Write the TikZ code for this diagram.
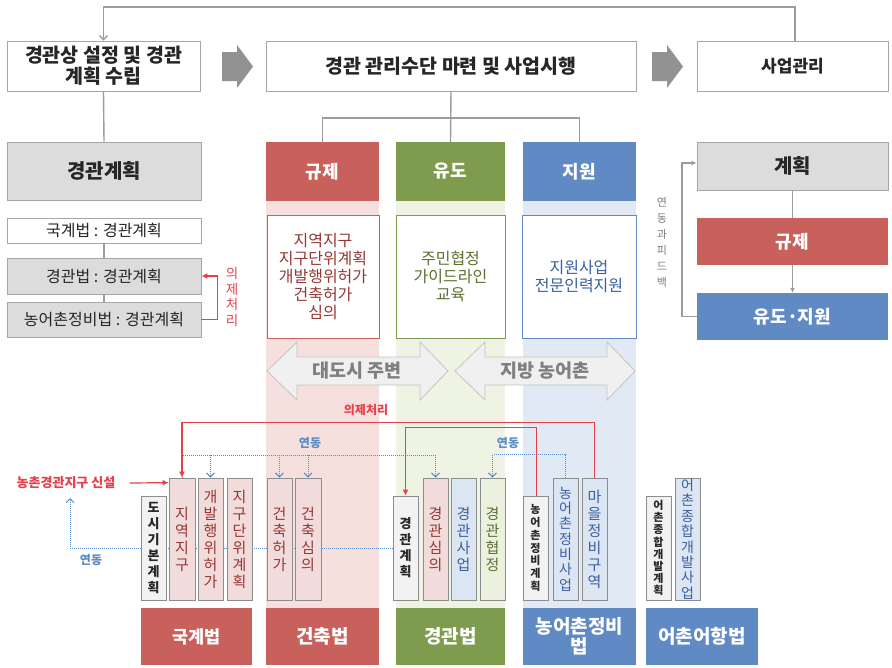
\documentclass[tikz,border=0pt]{standalone}
\usepackage{fontspec}
\setmainfont{Noto Sans CJK KR}
\usetikzlibrary{arrows.meta,backgrounds}
\definecolor{cRed}{HTML}{C8605C}
\definecolor{cGreen}{HTML}{7F9B4D}
\definecolor{cBlue}{HTML}{5F8AC4}
\definecolor{cGrayBox}{HTML}{DCDCDC}
\definecolor{cBorder}{HTML}{A6A6A6}
\definecolor{cText}{HTML}{262626}
\definecolor{cLine}{HTML}{9C9C9C}
\definecolor{bgPink}{HTML}{F5E0DE}
\definecolor{bgGreen}{HTML}{EEF3E3}
\definecolor{bgBlue}{HTML}{E0E9F4}
\definecolor{fPink}{HTML}{F2DCDB}
\definecolor{fGreen}{HTML}{EBF1DE}
\definecolor{fBlue}{HTML}{DCE6F2}
\definecolor{fGray}{HTML}{F2F2F2}
\definecolor{tRed}{HTML}{953735}
\definecolor{tGreen}{HTML}{5A7030}
\definecolor{tBlue}{HTML}{3A5FA0}
\definecolor{cRedLine}{HTML}{E8404A}
\definecolor{cLink}{HTML}{5B8BC6}
\definecolor{cArrow}{HTML}{929292}
\definecolor{cDA}{HTML}{F0F0F0}
\definecolor{cDAB}{HTML}{C4C4C4}
\definecolor{cDAT}{HTML}{7F7F7F}
\begin{document}
\begin{tikzpicture}[x=1pt,y=-1pt,
  box/.style={draw=cBorder,line width=0.8pt,inner sep=0pt,align=center,text=cText},
  titlebox/.style={box,fill=white,font=\fontsize{19.5}{21}\selectfont\bfseries},
  lawrow/.style={box,minimum width=194pt,font=\fontsize{16}{18}\selectfont},
  headbox/.style={inner sep=0pt,align=center,text=white,font=\fontsize{18}{20}\selectfont\bfseries},
  textbox/.style={fill=white,line width=0.8pt,inner sep=0pt,align=center,font=\fontsize{16}{18}\selectfont},
  vbox/.style={draw=cBorder!85!black,line width=0.7pt,inner sep=0pt,minimum width=25pt,align=center},
  vpink/.style={vbox,fill=fPink,text=tRed,minimum height=122pt,font=\fontsize{15}{17}\selectfont},
  vblue/.style={vbox,fill=fBlue,text=tBlue,minimum height=122pt,font=\fontsize{15}{17}\selectfont},
  vgreen/.style={vbox,fill=fGreen,text=tGreen,minimum height=122pt,font=\fontsize{15}{17}\selectfont},
  vgray/.style={vbox,fill=fGray,text=cText,minimum height=104pt,font=\fontsize{13}{16}\selectfont\bfseries},
  lawbox/.style={inner sep=0pt,minimum height=57pt,align=center,text=white,font=\fontsize{19}{20}\selectfont\bfseries},
  conn/.style={draw=cLine,line width=1.4pt},
  connarr/.style={conn,-{Latex[length=5pt,width=5pt]}},
  fbarr/.style={conn,-{Straight Barb[length=4pt,width=8pt]}},
  redarr/.style={draw=cRedLine,line width=1.2pt,-{Latex[length=6pt,width=6pt]}},
  lnk/.style={draw=cLink,line width=1pt,densely dotted},
  lnkarr/.style={lnk,-{Straight Barb[length=4pt,width=8pt]}},
  lbl/.style={inner sep=0pt,font=\fontsize{12}{14}\selectfont\bfseries}
]
\useasboundingbox (0,0) rectangle (892,667);
\begin{scope}[on background layer]
\fill[white] (0,0) rectangle (892,667);
% column backgrounds
\fill[bgPink] (266,201) rectangle (379,608);
\fill[bgGreen] (396,201) rectangle (505,608);
\fill[bgBlue] (523,201) rectangle (636,608);
\end{scope}

% top row
\node[titlebox,minimum width=193pt,minimum height=50pt] (A) at (103.5,66) {경관상 설정 및 경관\\계획 수립};
\node[titlebox,minimum width=370pt,minimum height=50pt] (B) at (451,66) {경관 관리수단 마련 및 사업시행};
\node[titlebox,minimum width=191pt,minimum height=50pt,font=\fontsize{17}{20}\selectfont\bfseries] (C) at (792.5,66) {사업관리};
\fill[cArrow] (222,52) -- (237,52) -- (237,45) -- (253,66.5) -- (237,88) -- (237,81) -- (222,81) -- cycle;
\fill[cArrow] (652,52) -- (667,52) -- (667,45) -- (683,66.5) -- (667,88) -- (667,81) -- (652,81) -- cycle;
\draw[fbarr] (C.north -| 795,0) -- (795,7) -| (A.north);

% left column
\node[box,fill=cGrayBox,minimum width=194pt,minimum height=58pt,font=\fontsize{20}{22}\selectfont\bfseries] (LP) at (104,171) {경관계획};
\node[lawrow,fill=white,minimum height=25pt] (L1) at (104,230.5) {국계법 : 경관계획};
\node[lawrow,fill=cGrayBox,minimum height=36pt] (L2) at (104,276) {경관법 : 경관계획};
\node[lawrow,fill=cGrayBox,minimum height=35pt] (L3) at (104,319.5) {농어촌정비법 : 경관계획};
\draw[conn] (A.south) -- (LP.north);
\draw[conn] (L1.south) -- (L2.north);
\draw[conn] (L2.south) -- (L3.north);
\draw[redarr] (L3.east) -- ++(16,0) |- (L2.east);
\node[inner sep=0pt,align=center,text=cRedLine,font=\fontsize{13.5}{15.6}\selectfont] (yj1) at (232,297) {의\\제\\처\\리};

% middle headers
\node[headbox,fill=cRed,minimum width=113pt,minimum height=59pt] (R) at (322.5,171.5) {규제};
\node[headbox,fill=cGreen,minimum width=109pt,minimum height=59pt] (G) at (450.5,171.5) {유도};
\node[headbox,fill=cBlue,minimum width=113pt,minimum height=59pt] (Bl) at (579.5,171.5) {지원};
\draw[conn] (B.south) -- (G.north);
\draw[conn] (R.north) -- ++(0,-24) -| (Bl.north);

\node[textbox,draw=cRed,text=tRed,minimum width=112pt,minimum height=123pt] (RT) at (323,276.5) {지역지구\\지구단위계획\\개발행위허가\\건축허가\\심의};
\node[textbox,draw=cGreen,text=tGreen,minimum width=109pt,minimum height=123pt] (GT) at (450.5,276.5) {주민협정\\가이드라인\\교육};
\node[textbox,draw=cBlue,text=tBlue,minimum width=114pt,minimum height=123pt] (BT) at (579,276.5) {지원사업\\전문인력지원};

% double arrows
\filldraw[fill=cDA,draw=cDAB,line width=0.8pt] (267,371) -- (297,342) -- (297,357) -- (420,357) -- (420,342) -- (448,371) -- (420,400) -- (420,385) -- (297,385) -- (297,400) -- cycle;
\filldraw[fill=cDA,draw=cDAB,line width=0.8pt] (455,371) -- (485,342) -- (485,357) -- (607,357) -- (607,342) -- (635,371) -- (607,400) -- (607,385) -- (485,385) -- (485,400) -- cycle;
\node[inner sep=0pt,text=cDAT,font=\fontsize{18.5}{20}\selectfont\bfseries] (DA1) at (357,371) {대도시 주변};
\node[inner sep=0pt,text=cDAT,font=\fontsize{18.5}{20}\selectfont\bfseries] (DA2) at (545,371) {지방 농어촌};

% right section
\node[box,fill=cGrayBox,minimum width=191pt,minimum height=48pt,font=\fontsize{20}{22}\selectfont\bfseries] (P) at (792.5,166) {계획};
\node[headbox,fill=cRed,minimum width=191pt,minimum height=47pt] (Q) at (792.5,241.5) {규제};
\node[headbox,fill=cBlue,minimum width=191pt,minimum height=47pt] (S) at (792.5,316.5) {유도·지원};
\draw[conn] (P.south) -- (Q.north);
\draw[connarr] (Q.south) -- (S.north);
\draw[connarr] (S.west) -- ++(-15,0) |- ([yshift=3pt]P.west);
\node[inner sep=0pt,align=center,text=cDAT,font=\fontsize{11}{16}\selectfont] (fbl) at (662,242) {연\\동\\과\\피\\드\\백};

% bottom small boxes
\node[vgray] (v1) at (153.5,548) {도\\시\\기\\본\\계\\획};
\node[vpink,minimum width=26pt] (v2) at (182,539) {지\\역\\지\\구};
\node[vpink] (v3) at (210.5,539) {개\\발\\행\\위\\허\\가};
\node[vpink] (v4) at (239.5,539) {지\\구\\단\\위\\계\\획};
\node[vpink] (v5) at (279.5,539) {건\\축\\허\\가};
\node[vpink,minimum width=26pt] (v6) at (308,539) {건\\축\\심\\의};
\node[vgray] (v7) at (405.5,548) {경\\관\\계\\획};
\node[vpink] (v8) at (435.5,539) {경\\관\\심\\의};
\node[vblue] (v9) at (463.5,539) {경\\관\\사\\업};
\node[vgreen] (v10) at (492.5,539) {경\\관\\협\\정};
\node[vgray,font=\fontsize{11}{12.7}\selectfont\bfseries] (v11) at (535.5,548) {농\\어\\촌\\정\\비\\계\\획};
\node[vblue,font=\fontsize{14}{15.3}\selectfont] (v12) at (565.5,539) {농\\어\\촌\\정\\비\\사\\업};
\node[vblue] (v13) at (594.5,539) {마\\을\\정\\비\\구\\역};
\node[vgray,font=\fontsize{11}{12.1}\selectfont\bfseries] (v14) at (658.5,548) {어\\촌\\종\\합\\개\\발\\계\\획};
\node[vblue,font=\fontsize{14}{15.4}\selectfont] (v15) at (687.5,539) {어\\촌\\종\\합\\개\\발\\사\\업};

% law boxes
\node[lawbox,fill=cRed,minimum width=111pt,font=\fontsize{17.5}{20}\selectfont\bfseries] (LA) at (196.5,636.5) {국계법};
\node[lawbox,fill=cRed,minimum width=113pt] (LB) at (322.5,636.5) {건축법};
\node[lawbox,fill=cGreen,minimum width=109pt] (LC) at (450.5,636.5) {경관법};
\node[lawbox,fill=cBlue,minimum width=113pt] (LD) at (579.5,636.5) {농어촌정비\\법};
\node[lawbox,fill=cBlue,minimum width=112pt] (LE) at (702,636.5) {어촌어항법};

% link behind small boxes
\begin{scope}[on background layer]
\coordinate (up1) at (70,498);
\draw[lnkarr] (v7.west) -| (up1);
\end{scope}

% labels
\node[lbl,text=cRedLine,font=\fontsize{13}{15}\selectfont\bfseries] (nk) at (66,483) {농촌경관지구 신설};
\draw[redarr] ([xshift=14pt]nk.east) -- ([yshift=-5pt]v2.north west);
\node[lbl,text=cLink] (yd0) at (91,560) {연동};
\node[lbl,text=cRedLine] (yj2) at (366,410) {의제처리};
\node[lbl,text=cLink] (yd1) at (310,443) {연동};
\node[lbl,text=cLink] (yd2) at (508,443) {연동};

% blue link lines
\draw[lnk] (v2.north) -- (v2.north |- 0,455) -- (v8.north |- 0,455);
\draw[lnkarr] (v3.north |- 0,455) -- (v3.north);
\draw[lnkarr] (v5.north |- 0,455) -- (v5.north);
\draw[lnkarr] (v6.north |- 0,455) -- (v6.north);
\draw[lnkarr] (v8.north |- 0,455) -- (v8.north);
\draw[lnkarr] (v12.north) -- ++(0,-23) -| (v10.north);

% red lines
\draw[redarr] (v13.north) -- ++(0,-55.5) -| (v2.north);
\draw[redarr] ([xshift=1pt]v11.north) -- ++(0,-68.5) -| (v7.north);
\end{tikzpicture}
\end{document}
